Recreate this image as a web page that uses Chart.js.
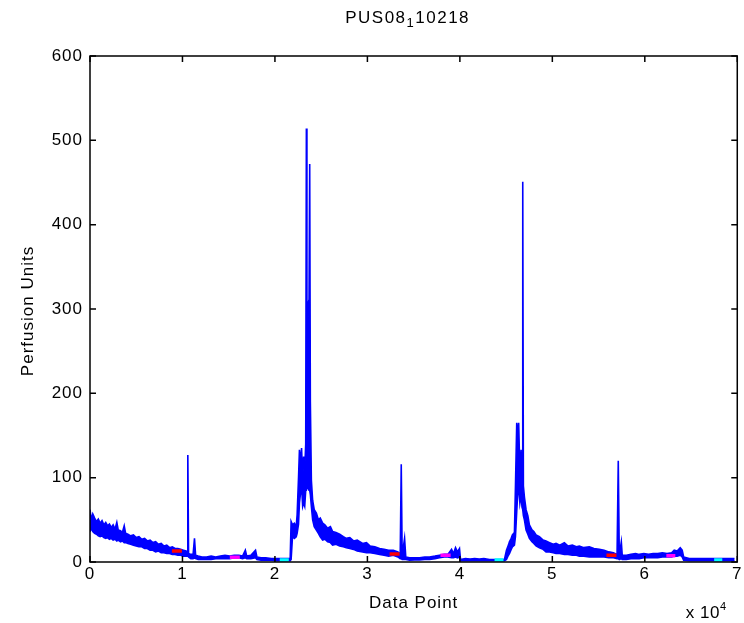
<!DOCTYPE html>
<html>
<head>
<meta charset="utf-8">
<script src="https://cdn.jsdelivr.net/npm/chart.js@4.4.1/dist/chart.umd.min.js"></script>
<style>
  html, body { margin: 0; padding: 0; background: #fff; }
  #wrap { width: 744px; height: 623px; }
</style>
</head>
<body>
<div id="wrap"><canvas id="perfChart"></canvas></div>
<script>
/* ---- data (x = data point, y = perfusion units) ---- */
// the trace is very noisy, so it is kept as an upper and lower envelope
const traceX = [
  0, 150, 300, 500, 700, 900, 1100, 1300, 1500, 1700, 1900, 2100, 2300, 2500, 2700, 2900, 3050, 3300, 3500, 3700,
  3850, 4100, 4400, 4700, 5000, 5300, 5600, 5900, 6200, 6500, 6800, 7100, 7400, 7700, 8000, 8300, 8600, 8900, 9200, 9500,
  9800, 10100, 10400, 10520, 10580, 10660, 10900, 11150, 11300, 11420, 11700, 12100, 12600, 13100, 13600, 14100, 14600, 15100, 15600, 16100,
  16500, 16800, 16950, 17400, 17900, 18050, 18500, 19000, 19600, 20200, 20800, 21400, 21650, 21750, 21900, 22100, 22300, 22400, 22550, 22650,
  22800, 22880, 23000, 23100, 23220, 23330, 23400, 23460, 23560, 23680, 23760, 23830, 23940, 24080, 24250, 24480, 24700, 24900, 25160, 25400,
  25700, 26000, 26240, 26600, 27000, 27400, 27720, 28100, 28500, 28900, 29480, 29900, 30300, 30800, 31320, 31800, 32300, 32800, 33300, 33550,
  33660, 33760, 34020, 34150, 34560, 35100, 35640, 36200, 36720, 37300, 37800, 38300, 38700, 39100, 39310, 39530, 39740, 39960, 40070, 40600,
  41100, 41600, 42100, 42600, 43200, 43700, 44300, 44820, 45040, 45250, 45360, 45550, 45680, 45900, 46010, 46150, 46250, 46360, 46490, 46620,
  46720, 46800, 46870, 46980, 47160, 47350, 47520, 47800, 48000, 48240, 48600, 49000, 49320, 49700, 50100, 50400, 50800, 51300, 51700, 52160,
  52600, 52920, 53400, 54000, 54500, 55080, 55600, 56100, 56600, 57000, 57130, 57240, 57460, 57560, 58000, 58500, 59000, 59400, 59900, 60400,
  60900, 61400, 61900, 62400, 62900, 63180, 63500, 63830, 64040, 64200, 64800, 65300, 65900, 66500, 67000, 67500, 68200, 68800, 69300, 69700
];
const traceHi = [
  62, 50, 57, 52, 48, 51, 46, 49, 44, 47, 43, 45, 41, 44, 39, 47, 38, 37, 35, 43,
  34, 33, 31, 32, 29, 30, 27, 28, 25, 26, 23, 24, 21, 22, 19, 20, 17, 18, 16, 16,
  15, 14, 13, 12, 127, 10, 9, 9, 28, 8, 7, 6, 6, 7, 6, 7, 8, 7, 8, 8,
  7, 14, 7, 8, 14, 6, 5, 5, 4, 4, 4, 4, 4, 48, 44, 46, 42, 56, 100, 133,
  118, 135, 97, 125, 110, 140, 514, 300, 305, 290, 472, 190, 97, 73, 62, 58, 50, 52, 46, 44,
  40, 42, 36, 35, 33, 30, 28, 29, 25, 26, 22, 23, 19, 18, 16, 15, 14, 14, 12, 9,
  116, 8, 28, 6, 5, 5, 5, 6, 6, 7, 8, 9, 9, 15, 10, 17, 12, 16, 3, 4,
  3.5, 4, 3.5, 4, 3, 3, 3, 3, 14, 20, 24, 28, 32, 35, 89, 165, 150, 165, 105, 133,
  90, 451, 90, 77, 62, 55, 44, 38, 36, 32, 30, 26, 25, 23, 21, 22, 20, 23, 19, 20,
  18, 19, 17, 18, 16, 15, 14, 12, 11, 9, 120, 8, 24, 8, 8, 9, 10, 9, 10, 9,
  10, 10, 11, 10, 11, 14, 13, 17, 14, 6, 4, 4, 4, 4, 4, 4, 4, 4, 4, 4
];
const traceLo = [
  36, 40, 36, 34, 33, 31, 30, 31, 29, 28, 29, 27, 28, 26, 27, 25, 26, 24, 25, 23,
  23, 22, 21, 20, 19, 18, 18, 16, 16, 14, 14, 12, 13, 11, 11, 10, 10, 9, 9, 8,
  8, 7, 7, 7, 8, 6, 4, 4, 5, 4, 3, 3, 3, 3, 4, 4, 4, 4, 5, 5,
  4, 5, 4, 4, 5, 3, 2, 2, 2, 1.5, 1.5, 1.5, 1.5, 3, 30, 28, 30, 34, 45, 70,
  85, 90, 66, 70, 66, 85, 85, 85, 90, 85, 85, 80, 66, 50, 42, 38, 34, 30, 26, 27,
  24, 23, 20, 21, 19, 18, 17, 16, 15, 13, 12, 11, 11, 10, 9, 8, 7, 8, 6, 4,
  4, 3, 3, 3, 2, 2.5, 2.5, 3, 3, 4, 5, 6, 6, 5, 5, 6, 5, 6, 1.5, 1.5,
  1.5, 1.5, 1.5, 1.5, 1.5, 1.5, 1.5, 1.5, 3, 8, 10, 15, 18, 20, 30, 60, 80, 90, 70, 80,
  65, 62, 55, 50, 38, 33, 28, 24, 22, 19, 17, 15, 12, 12, 11, 10, 10, 9, 9, 8,
  8, 7, 7, 6, 6, 6, 6, 5, 5, 4, 4, 3, 4, 3, 3, 4, 4, 4, 5, 5,
  5, 5, 6, 6, 6, 7, 7, 8, 6, 2, 1.5, 1.5, 1.5, 1.5, 1.5, 1.5, 1.5, 1.5, 1.5, 1.5
];

// short coloured marker segments along the baseline
const markStart = [8860, 15120, 20520, 32400, 37900, 43750, 55850, 62330, 67500];
const markEnd   = [9940, 16200, 21500, 33480, 39000, 44720, 56930, 63300, 68380];
const markLevel = [13, 5.5, 2.4, 9.5, 8, 2.4, 8, 7.5, 2.4];

const xTicks = [0, 1, 2, 3, 4, 5, 6, 7]; // x 10^4
const yTicks = [0, 100, 200, 300, 400, 500, 600];

const markColors = ["#ff0000", "#ff00ff", "#00ffff"];
const BLUE = "#0000ff";
const FONT = "Liberation Sans";

/* ---- datasets ---- */
const hiPts = traceX.map((x, i) => ({ x: x, y: traceHi[i] }));
const loPts = traceX.map((x, i) => ({ x: x, y: traceLo[i] }));

const datasets = [
  { data: hiPts, borderColor: BLUE, borderWidth: 1.6, pointRadius: 0, fill: false, order: 2 },
  { data: loPts, borderColor: BLUE, borderWidth: 1.6, pointRadius: 0, fill: "-1", backgroundColor: BLUE, order: 1 }
];
markStart.forEach((s, i) => {
  datasets.push({
    data: [{ x: s, y: markLevel[i] }, { x: markEnd[i], y: markLevel[i] }],
    borderColor: markColors[i % 3],
    borderWidth: 3.5,
    pointRadius: 0,
    fill: false,
    order: 0
  });
});

/* ---- box, inward ticks and texts (MATLAB look) ---- */
const framePlugin = {
  id: "frame",
  beforeDraw(chart) {
    chart.ctx.letterSpacing = "1px";
  },
  afterDraw(chart) {
    const { ctx, chartArea: a, scales } = chart;
    ctx.save();
    ctx.strokeStyle = "#000";
    ctx.lineWidth = 1.5;
    ctx.strokeRect(a.left, a.top, a.right - a.left, a.bottom - a.top);

    const tl = 6;
    ctx.beginPath();
    xTicks.forEach(t => {
      const px = scales.x.getPixelForValue(t * 10000);
      ctx.moveTo(px, a.bottom); ctx.lineTo(px, a.bottom - tl);
      ctx.moveTo(px, a.top); ctx.lineTo(px, a.top + tl);
    });
    yTicks.forEach(t => {
      const py = scales.y.getPixelForValue(t);
      ctx.moveTo(a.left, py); ctx.lineTo(a.left + tl, py);
      ctx.moveTo(a.right, py); ctx.lineTo(a.right - tl, py);
    });
    ctx.stroke();

    ctx.fillStyle = "#000";
    ctx.textBaseline = "alphabetic";

    // title with subscript 1
    ctx.letterSpacing = "1.5px";
    ctx.font = "17px " + FONT;
    const partA = "PUS08", partB = "10218";
    const wA = ctx.measureText(partA).width;
    const wB = ctx.measureText(partB).width;
    ctx.font = "13px " + FONT;
    const wS = ctx.measureText("1").width;
    const tx = (a.left + a.right) / 2 - (wA + wS + wB) / 2 - 6;
    ctx.font = "17px " + FONT;
    ctx.textAlign = "left";
    ctx.fillText(partA, tx, 23);
    ctx.font = "13px " + FONT;
    ctx.fillText("1", tx + wA, 27);
    ctx.font = "17px " + FONT;
    ctx.fillText(partB, tx + wA + wS, 23);

    // axis labels
    ctx.letterSpacing = "1px";
    ctx.textAlign = "center";
    ctx.fillText("Data Point", (a.left + a.right) / 2, 608);
    ctx.save();
    ctx.translate(33, 311);
    ctx.rotate(-Math.PI / 2);
    ctx.fillText("Perfusion Units", 0, 0);
    ctx.restore();

    // exponent note
    ctx.letterSpacing = "0.5px";
    ctx.textAlign = "right";
    ctx.fillText("x 10", 720, 618);
    ctx.font = "11px " + FONT;
    ctx.textAlign = "left";
    ctx.fillText("4", 720, 610);
    ctx.restore();
  }
};

new Chart(document.getElementById("perfChart"), {
  type: "line",
  data: { datasets: datasets },
  plugins: [framePlugin],
  options: {
    responsive: true,
    maintainAspectRatio: false,
    animation: false,
    layout: { padding: { left: 0, right: 6, top: 56, bottom: 0 } },
    plugins: { legend: { display: false }, tooltip: { enabled: false } },
    elements: { line: { tension: 0 } },
    scales: {
      x: {
        type: "linear",
        min: 0, max: 70000,
        afterBuildTicks: s => { s.ticks = xTicks.map(v => ({ value: v * 10000 })); },
        afterFit: s => { s.height = 61; },
        grid: { display: false, drawTicks: false },
        border: { display: false },
        ticks: {
          padding: 2,
          color: "#000",
          font: { family: FONT, size: 17 },
          maxRotation: 0,
          callback: v => String(v / 10000)
        }
      },
      y: {
        type: "linear",
        min: 0, max: 600,
        afterBuildTicks: s => { s.ticks = yTicks.map(v => ({ value: v })); },
        afterFit: s => { s.width = 90; },
        grid: { display: false, drawTicks: false },
        border: { display: false },
        ticks: {
          padding: 7,
          color: "#000",
          font: { family: FONT, size: 17 }
        }
      }
    }
  }
});
</script>
</body>
</html>
